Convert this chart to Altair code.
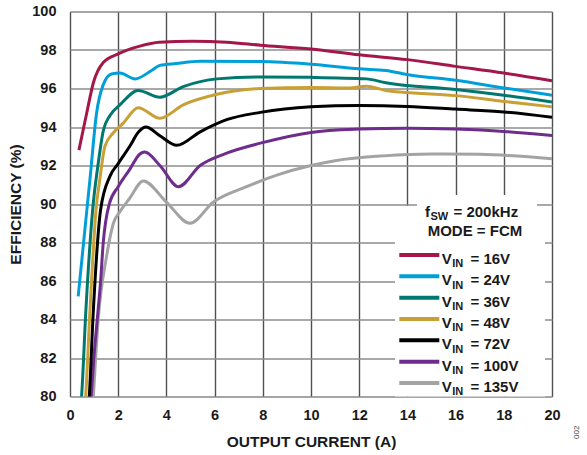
import altair as alt
import pandas as pd

# ---------------- data ----------------
series_names = ["16V", "24V", "36V", "48V", "72V", "100V", "135V"]
series_colors = ["#A3174B", "#009FDA", "#00776F", "#C9A035", "#000000", "#6E2C8C", "#A3A3A3"]

cur_16 = [0.37, 0.69, 0.97, 1.38, 2.0, 2.9, 3.7, 5.1, 6.5, 7.9, 10.0, 12.0, 14.0, 16.0, 18.0, 20.0]
eff_16 = [92.8, 94.7, 96.3, 97.35, 97.8, 98.2, 98.4, 98.45, 98.4, 98.25, 98.05, 97.75, 97.5, 97.15, 96.8, 96.4]

cur_24 = [0.34, 0.66, 0.83, 1.1, 1.38, 1.72, 2.07, 2.7, 3.4, 3.73, 4.4, 5.4, 7.9, 10.0, 12.0, 13.1, 14.1, 16.0, 18.0, 20.0]
eff_24 = [85.2, 89.2, 91.3, 94.7, 96.2, 96.75, 96.8, 96.5, 96.95, 97.2, 97.3, 97.42, 97.4, 97.26, 97.02, 96.94, 96.7, 96.43, 96.03, 95.65]

cur_36 = [0.40, 0.48, 0.66, 0.94, 1.17, 1.38, 1.66, 2.07, 2.83, 3.73, 4.7, 6.1, 7.9, 10.0, 12.3, 13.1, 16.0, 18.0, 20.0]
eff_36 = [78.9, 80.0, 84.5, 89.7, 92.1, 93.8, 94.6, 95.15, 95.9, 95.55, 96.1, 96.5, 96.6, 96.58, 96.5, 96.3, 95.95, 95.65, 95.3]

cur_48 = [0.55, 0.65, 0.83, 1.08, 1.24, 1.45, 1.8, 2.21, 2.83, 3.73, 4.7, 6.1, 7.9, 10.0, 11.6, 12.3, 13.1, 16.0, 18.0, 20.0]
eff_48 = [78.5, 80.0, 84.5, 89.7, 91.3, 93.0, 93.7, 94.2, 95.0, 94.45, 95.15, 95.7, 96.0, 96.05, 96.03, 96.12, 95.9, 95.63, 95.33, 95.05]

cur_72 = [0.7, 0.8, 0.97, 1.27, 1.66, 2.0, 2.48, 2.85, 3.15, 3.73, 4.43, 5.4, 6.5, 7.9, 10.0, 12.0, 14.0, 16.0, 18.0, 20.0]
eff_72 = [78.3, 80.0, 84.5, 89.7, 91.45, 92.1, 93.0, 93.75, 94.0, 93.55, 93.05, 93.75, 94.38, 94.76, 95.05, 95.12, 95.07, 94.93, 94.78, 94.5]

cur_100 = [0.8, 0.88, 0.99, 1.13, 1.27, 1.38, 1.63, 2.0, 2.48, 2.9, 3.1, 3.73, 4.5, 5.4, 6.5, 7.9, 10.0, 12.0, 14.0, 16.0, 18.0, 20.0]
eff_100 = [78.5, 80.0, 82.0, 84.0, 86.0, 88.0, 90.0, 90.9, 91.8, 92.6, 92.7, 92.0, 90.9, 92.0, 92.64, 93.16, 93.72, 93.89, 93.94, 93.89, 93.77, 93.56]

cur_135 = [0.9, 0.97, 1.17, 1.52, 1.8, 2.07, 2.48, 3.04, 4.0, 4.98, 5.95, 7.33, 8.58, 10.0, 11.0, 13.0, 15.0, 17.0, 20.0]
eff_135 = [78.5, 80.0, 84.0, 87.3, 89.0, 89.6, 90.3, 91.2, 90.1, 89.0, 90.1, 90.9, 91.5, 92.0, 92.25, 92.5, 92.6, 92.58, 92.35]

x_ticks = [0, 2, 4, 6, 8, 10, 12, 14, 16, 18, 20]
y_ticks = [80, 82, 84, 86, 88, 90, 92, 94, 96, 98, 100]

curves = {
    "16V": (cur_16, eff_16), "24V": (cur_24, eff_24), "36V": (cur_36, eff_36),
    "48V": (cur_48, eff_48), "72V": (cur_72, eff_72), "100V": (cur_100, eff_100),
    "135V": (cur_135, eff_135),
}

rows = []
for name in reversed(series_names):  # draw 135V first, 16V last
    xs, ys = curves[name]
    for k, (a, b) in enumerate(zip(xs, ys)):
        rows.append({"series": name, "I": a, "E": b, "k": k})
df = pd.DataFrame(rows)

FONT = "Liberation Sans"
W, H = 482, 385

color_scale = alt.Scale(domain=series_names, range=series_colors)

lines = alt.Chart(df).mark_line(strokeWidth=3, clip=True, interpolate="monotone").encode(
    x=alt.X("I:Q", scale=alt.Scale(domain=[0, 20], nice=False),
            axis=alt.Axis(values=x_ticks, title="OUTPUT CURRENT (A)", grid=True,
                          gridColor="#505050", gridWidth=1.4, ticks=False, domain=False,
                          labelFont=FONT, labelFontSize=14.5, labelFontWeight="bold",
                          labelColor="#1a1a1a", labelPadding=12, labelFlush=False,
                          titleFont=FONT, titleFontSize=15.5, titleFontWeight="bold",
                          titleColor="#1a1a1a", titleY=45, titleBaseline="middle")),
    y=alt.Y("E:Q", scale=alt.Scale(domain=[80, 100], nice=False),
            axis=alt.Axis(values=y_ticks, title="EFFICIENCY (%)", grid=True,
                          gridColor="#8c8c8c", gridWidth=1.4, ticks=False, domain=False,
                          labelFont=FONT, labelFontSize=14.5, labelFontWeight="bold",
                          labelColor="#1a1a1a", labelPadding=14, labelFlush=False,
                          titleFont=FONT, titleFontSize=15.5, titleFontWeight="bold",
                          titleColor="#1a1a1a", titleX=-55, titleY=H / 2,
                          titleAngle=270, titleAlign="center", titleBaseline="middle")),
    color=alt.Color("series:N", scale=color_scale, legend=None),
    detail="series:N",
    order="k:Q",
)

one = pd.DataFrame({"a": [0]})

def box(x1, x2, y1, y2):
    return alt.Chart(one).mark_rect(fill="white", stroke=None).encode(
        x=alt.value(x1), x2=alt.value(x2), y=alt.value(y1), y2=alt.value(y2))

def txt(s, x, y, size=15, align="left", color="#1a1a1a", weight="bold", angle=0):
    return alt.Chart(one).mark_text(text=s, font=FONT, fontSize=size, fontWeight=weight,
                                    align=align, baseline="alphabetic", color=color,
                                    angle=angle).encode(x=alt.value(x), y=alt.value(y))

layers = [box(347, 467, 183.5, 233.5), box(325, 475, 194.5, 385), lines]

# legend header
layers += [txt("f", 355, 205.2), txt("SW", 360.5, 208.5, size=11), txt("= 200kHz", 383.5, 205.2),
           txt("MODE = FCM", 405, 224.2, align="center")]

# legend rows
for i, (name, col) in enumerate(zip(series_names, series_colors)):
    ly = 243.5 + 21.33 * i
    layers.append(alt.Chart(one).mark_rule(color=col, strokeWidth=4).encode(
        x=alt.value(329.3), x2=alt.value(369.3), y=alt.value(ly)))
    layers.append(txt("V", 371.7, ly + 9))
    layers.append(txt("IN", 382.3, ly + 12.3, size=11))
    layers.append(txt("= " + name, 400.5, ly + 9))

layers.append(txt("002", 509, 427.5, size=8, color="#444444", weight="normal", angle=270))

chart = alt.layer(*layers).properties(
    width=W, height=H,
    padding={"left": 70, "top": 11.5, "right": 35, "bottom": 58.5},
    autosize="none",
).configure_view(stroke="#2b2b2b", strokeWidth=1.6).configure(background="white")

chart.save("out.html", embed_options={"renderer": "svg", "actions": False})
